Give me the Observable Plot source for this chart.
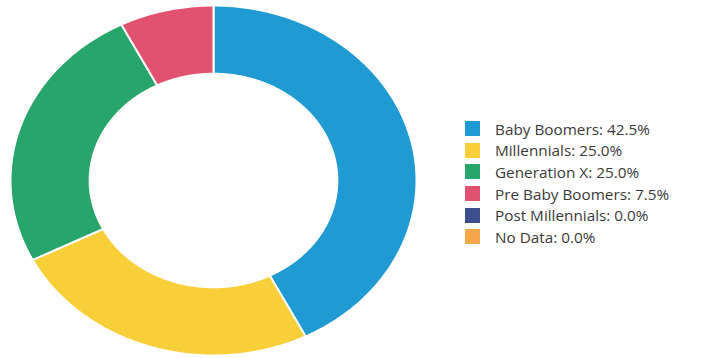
<!DOCTYPE html>
<html><head><meta charset="utf-8">
<script src="https://cdn.jsdelivr.net/npm/d3@7"></script>
<script src="https://cdn.jsdelivr.net/npm/@observablehq/plot@0.6"></script>
<style>
body{margin:0;background:#fff;font-family:"Open Sans",sans-serif;}
#wrap{position:relative;width:710px;height:358px;}
#legend{position:absolute;left:465px;top:118px;font-size:15.3px;color:#3a3a3a;}
.row{display:flex;align-items:center;height:21.6px;}
.sw{width:15px;height:15px;margin-right:15px;}
</style></head>
<body><div id="wrap"><div id="chart"></div><div id="legend"></div></div>
<script>
const categories = ["Baby Boomers","Millennials","Generation X","Pre Baby Boomers","Post Millennials","No Data"];
const values = [42.5, 25.0, 25.0, 7.5, 0.0, 0.0];
const colors = ["#1f9ad2","#f8cf38","#27a56b","#e0526f","#3d4e8c","#f6a64a"];

const inner = 0.61;
const pts = [];
let acc = 0;
const total = d3.sum(values);
categories.forEach((c,i)=>{
  const v = values[i];
  if (v <= 0) { return; }
  const a0 = acc/total*2*Math.PI, a1 = (acc+v)/total*2*Math.PI;
  acc += v;
  const n = Math.max(8, Math.ceil((a1-a0)/0.01));
  const ring = [];
  for (let k=0;k<=n;k++){const a=a0+(a1-a0)*k/n; ring.push({x:Math.sin(a),y:Math.cos(a)});}
  for (let k=n;k>=0;k--){const a=a0+(a1-a0)*k/n; ring.push({x:inner*Math.sin(a),y:inner*Math.cos(a)});}
  ring.push(ring[0]);
  ring.forEach(p=>pts.push({...p,cat:c}));
});

const chart = Plot.plot({
  width:710, height:358,
  marginLeft:10, marginRight:294, marginTop:5, marginBottom:3,
  x:{domain:[-1,1], axis:null},
  y:{domain:[-1,1], axis:null},
  color:{domain:categories, range:colors},
  marks:[
    Plot.line(pts,{x:"x",y:"y",z:"cat",fill:"cat",stroke:"white",strokeWidth:2,curve:"linear"})
  ]
});
document.getElementById("chart").appendChild(chart);

const lg = document.getElementById("legend");
categories.forEach((c,i)=>{
  const r=document.createElement("div");r.className="row";
  const s=document.createElement("div");s.className="sw";s.style.background=colors[i];
  const t=document.createElement("span");t.textContent=`${c}: ${values[i].toFixed(1)}%`;
  r.appendChild(s);r.appendChild(t);lg.appendChild(r);
});
</script></body></html>
